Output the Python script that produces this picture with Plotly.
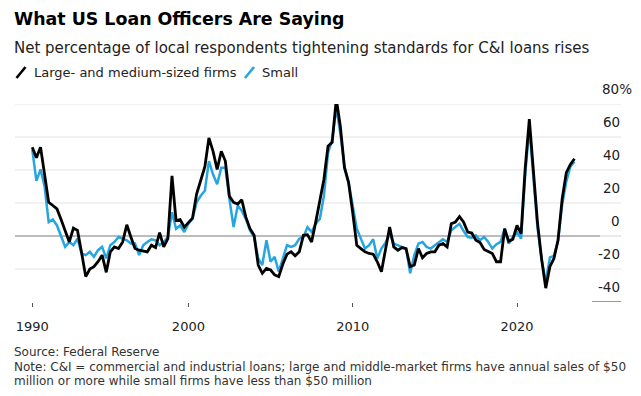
import pandas as pd
import plotly.graph_objects as go

# ---------------- data (quarterly survey, 1990 Q2 - 2023 Q2) ----------------
# each quarter's reading is drawn at the close of its quarter
quarters = pd.date_range("1990-07-01", periods=133, freq="QS")

large_medium = [
    53.8, 47.4, 53.8, 37.0, 20.4, 18.5, 16.4, 10.0, 3.0, -3.6,
    4.8, 3.4, -10.0, -24.6, -20.0, -18.6, -15.6, -11.6, -22.0, -9.6,
    -6.6, -7.6, -3.6, 6.8, -0.6, -7.6, -8.6, -9.0, -9.6, -5.6,
    -7.0, 2.0, -6.6, -1.6, 36.4, 9.4, 10.0, 5.4, 8.4, 10.8,
    25.4, 33.0, 42.0, 59.4, 51.4, 40.4, 51.4, 45.4, 24.0, 20.4,
    19.4, 22.0, 11.4, 4.4, 0.4, -17.6, -22.6, -19.6, -20.6, -23.6,
    -24.6, -17.0, -11.0, -9.6, -12.0, -9.6, 0.4, 0.8, -3.6, 8.4,
    20.4, 34.4, 54.4, 56.8, 83.0, 66.4, 41.4, 32.4, 14.0, -5.6,
    -7.6, -9.6, -10.6, -11.0, -15.6, -21.6, -8.0, 5.4, -6.6, -8.6,
    -7.0, -7.6, -18.6, -17.6, -7.6, -13.2, -10.6, -9.6, -9.6, -5.6,
    -4.6, -6.6, 7.4, 8.4, 11.8, 8.4, 2.4, 1.8, -2.6, -4.0,
    -8.2, -9.6, -10.6, -15.6, -15.6, 4.4, -3.2, -2.0, 6.4, 1.4,
    41.0, 70.8, 40.0, 8.0, -14.0, -31.6, -18.6, -13.6, -2.6, 22.4,
    38.4, 43.4, 46.8,
]

small = [
    52.4, 33.4, 40.4, 30.0, 8.4, 10.0, 6.4, -0.6, -6.6, -3.6,
    -5.6, -1.6, -10.6, -11.6, -9.6, -12.6, -8.6, -6.6, -13.6, -5.6,
    -3.6, -0.6, -1.6, -2.6, -4.6, -4.6, -11.6, -5.6, -3.6, -2.0,
    -2.6, -5.6, -3.6, -0.6, 14.4, 4.4, 6.4, 2.4, 7.4, 10.4,
    20.4, 24.4, 27.4, 45.4, 37.4, 31.4, 41.4, 41.4, 22.4, 5.4,
    18.4, 15.4, 10.4, 3.4, -0.6, -13.6, -17.6, -2.6, -15.6, -12.6,
    -21.6, -13.6, -5.6, -6.6, -5.6, -1.6, -0.6, 5.4, 2.4, 7.4,
    10.4, 24.4, 50.4, 58.4, 78.0, 62.0, 42.4, 32.4, 18.0, 4.4,
    -1.6, -7.6, -5.6, -2.0, -13.6, -7.6, -4.0, 1.4, -4.6, -5.6,
    -7.0, -7.6, -22.6, -11.6, -4.6, -3.6, -6.6, -7.6, -5.6, -4.0,
    -2.0, -3.6, 3.4, 5.4, 7.4, 3.0, -0.6, -1.0, 0.4, -2.6,
    -0.6, -3.6, -7.6, -5.0, -3.6, 4.4, -4.6, -0.6, 2.4, -1.6,
    37.0, 66.0, 36.0, 5.0, -14.0, -28.0, -13.0, -12.0, -3.0, 19.0,
    33.0, 42.0, 45.0,
]

y_ticks = [80, 60, 40, 20, 0, -20, -40]
x_tick_dates = ["1990-07-01", "2000-01-01", "2010-01-01", "2020-01-01"]
x_tick_labels = ["1990", "2000", "2010", "2020"]

title = "What US Loan Officers Are Saying"
subtitle = "Net percentage of local respondents tightening standards for C&I loans rises"
series_names = ["Large- and medium-sized firms", "Small"]
source = "Source: Federal Reserve"
note_1 = "Note: C&I = commercial and industrial loans; large and middle-market firms have annual sales of $50"
note_2 = "million or more while small firms have less than $50 million"

BLACK = "#000000"
BLUE = "#27a5e0"
FONT = "DejaVu Sans, Liberation Sans, Arial, sans-serif"
TXT = "#222222"

# ---------------- layout geometry ----------------
# the page has an 8px body margin, so the figure is 8px smaller and all page
# pixel positions below are converted to figure pixels
OFF = 8
W, H = 641 - OFF, 396 - OFF
PLOT_LEFT, PLOT_RIGHT, PLOT_TOP, PLOT_BOTTOM = 15, 621, 104, 302   # page pixels
L = PLOT_LEFT - OFF
R = W - (PLOT_RIGHT - OFF)
T = PLOT_TOP - OFF
B = H - (PLOT_BOTTOM - OFF)
PW, PH = W - L - R, H - T - B


def px(x):
    return (x - OFF - L) / PW


def py(y):
    return (H - B - (y - OFF)) / PH


fig = go.Figure()
fig.add_trace(go.Scatter(x=quarters, y=small, mode="lines", name=series_names[1],
                         line=dict(color=BLUE, width=2.5), hoverinfo="skip"))
fig.add_trace(go.Scatter(x=quarters, y=large_medium, mode="lines", name=series_names[0],
                         line=dict(color=BLACK, width=2.8), hoverinfo="skip"))

annotations = []
shapes = []

# title, subtitle
annotations.append(dict(text=f"<b>{title}</b>", x=px(12), y=py(19), xref="paper", yref="paper",
                        xanchor="left", yanchor="middle", showarrow=False,
                        font=dict(family=FONT, size=17.4, color="#000")))
annotations.append(dict(text=subtitle, x=px(12), y=py(48), xref="paper", yref="paper",
                        xanchor="left", yanchor="middle", showarrow=False,
                        font=dict(family=FONT, size=15, color=TXT)))

# legend (slash icons + labels)
leg_items = [(15.5, 32, BLACK, series_names[0]), (244, 260, BLUE, series_names[1])]
for ix, tx, col, name in leg_items:
    shapes.append(dict(type="line", xref="paper", yref="paper",
                       x0=px(ix + 1), y0=py(78), x1=px(ix + 10), y1=py(67),
                       line=dict(color=col, width=2.6)))
    annotations.append(dict(text=name, x=px(tx), y=py(72.5), xref="paper", yref="paper",
                            xanchor="left", yanchor="middle", showarrow=False,
                            font=dict(family=FONT, size=13, color=TXT)))

# y-axis labels, sitting above their gridlines at the right
for v in y_ticks:
    if v == max(y_ticks):
        txt, xr = f"{v}%", 634
    else:
        txt, xr = str(v), 621.5
    annotations.append(dict(text=txt, x=px(xr), y=v, xref="paper", yref="y",
                            xanchor="right", yanchor="bottom", yshift=5, showarrow=False,
                            font=dict(family=FONT, size=13.5, color=TXT)))

# gridlines
for v in y_ticks:
    if v == 0:
        shapes.append(dict(type="line", xref="paper", yref="y", x0=0, x1=px(600), y0=v, y1=v,
                           line=dict(color="#7a7a7a", width=1.2), layer="below"))
        shapes.append(dict(type="line", xref="paper", yref="y", x0=px(600), x1=1, y0=v, y1=v,
                           line=dict(color="#d4d4d4", width=1), layer="below"))
    elif v == min(y_ticks):
        shapes.append(dict(type="line", xref="paper", yref="y", x0=px(592), x1=1, y0=v, y1=v,
                           line=dict(color="#555", width=1.2), layer="below"))
    else:
        shapes.append(dict(type="line", xref="paper", yref="y", x0=0, x1=1, y0=v, y1=v,
                           line=dict(color="#e3e3e3", width=1), layer="below"))

# footer
for txt, yy in [(source, 352), (note_1, 367), (note_2, 381)]:
    annotations.append(dict(text=txt, x=px(12), y=py(yy), xref="paper", yref="paper",
                            xanchor="left", yanchor="middle", showarrow=False,
                            font=dict(family=FONT, size=12, color="#333")))

fig.update_layout(
    width=W, height=H,
    margin=dict(l=L, r=R, t=T, b=B, pad=0),
    paper_bgcolor="white", plot_bgcolor="white",
    showlegend=False,
    annotations=annotations, shapes=shapes,
    xaxis=dict(type="date", range=["1989-06-12", "2026-05-01"],
               tickvals=x_tick_dates, ticktext=x_tick_labels,
               ticks="outside", ticklen=4, tickwidth=1, tickcolor="#555",
               showgrid=False, zeroline=False, showline=False,
               ticklabelstandoff=8,
               tickfont=dict(family=FONT, size=13, color=TXT)),
    yaxis=dict(range=[-40, 80], showgrid=False, zeroline=False, showline=False,
               showticklabels=False, ticks=""),
)

fig.write_html("out.html")
